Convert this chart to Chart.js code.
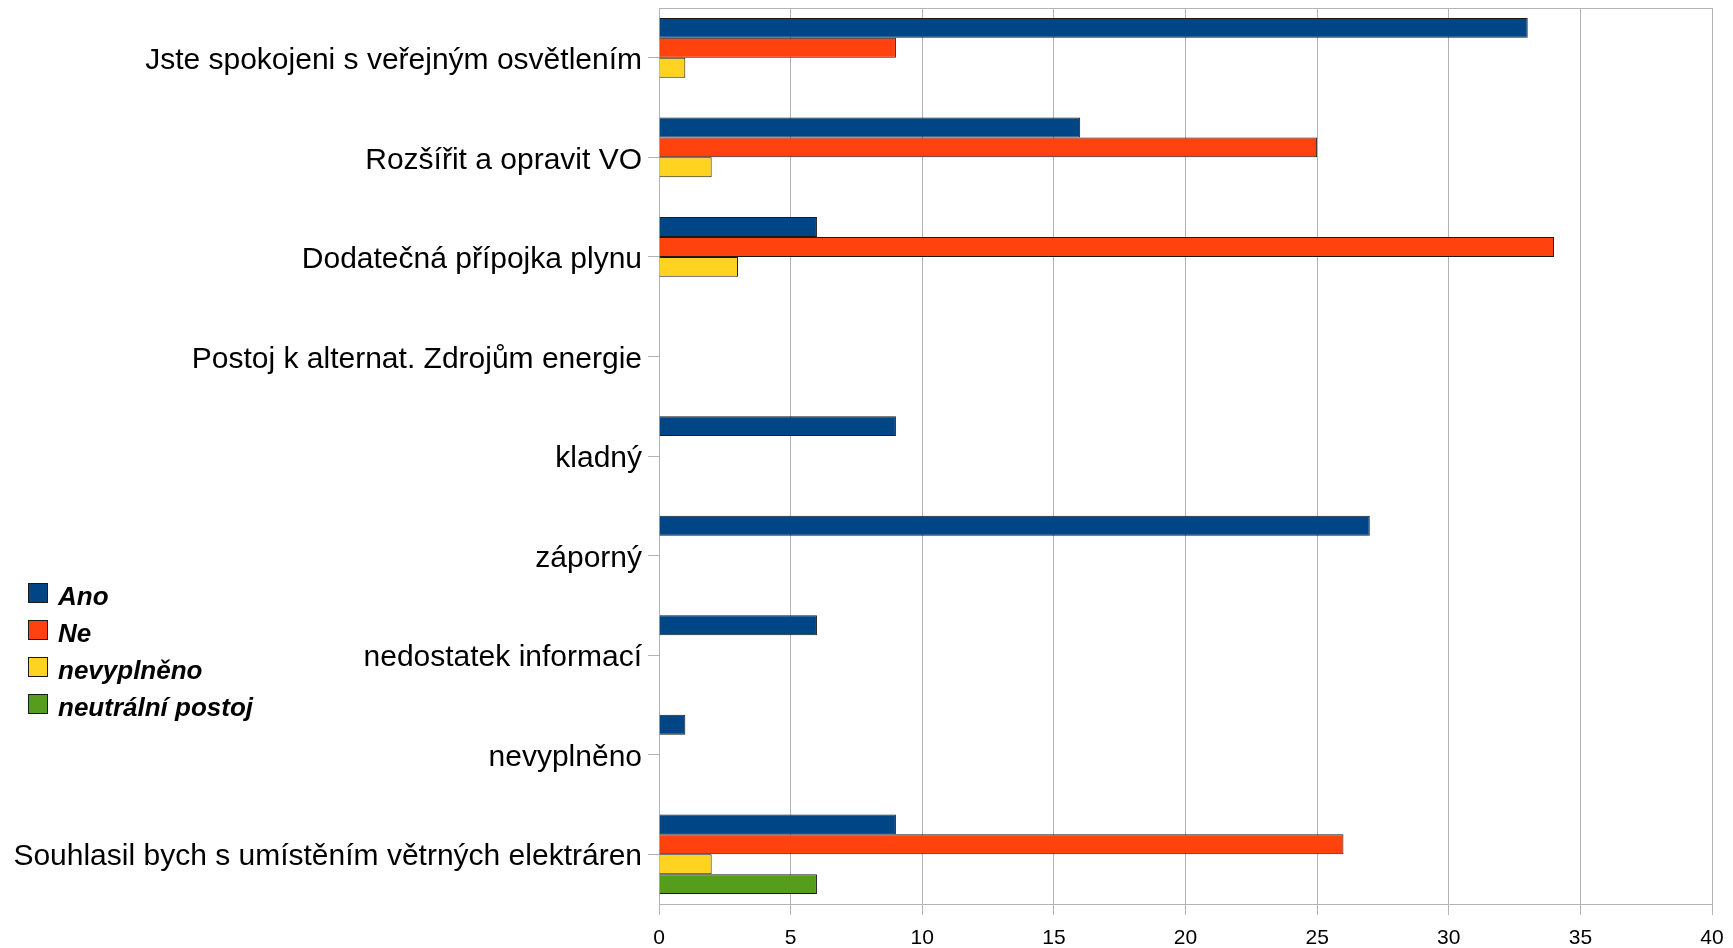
<!DOCTYPE html>
<html lang="cs">
<head>
    <meta charset="UTF-8">
    <title>Veřejné osvětlení a energie</title>
    <script src="https://cdn.jsdelivr.net/npm/chart.js@4.4.1/dist/chart.umd.min.js"></script>
    <style>
        body { margin: 0; background: #fff; }
        .wrap { position: relative; width: 1733px; height: 948px; }
        .legend { position: absolute; left: 28px; top: 583px; font-family: "Liberation Sans", Arial, sans-serif; font-weight: bold; font-style: italic; font-size: 26px; color: #000; }
        .legend div { height: 37px; display: flex; align-items: flex-start; }
        .legend span.box { width: 18px; height: 18px; border: 1px solid #1a1a1a; margin-right: 10px; }
        .legend span.txt { line-height: 26px; margin-top: 0; }
    </style>
</head>
<body>
<div class="wrap">
    <canvas id="chart"></canvas>
    <div class="legend" id="legend"></div>
</div>
<script>
    // data
    const categories = [
        'Jste spokojeni s veřejným osvětlením',
        'Rozšířit a opravit VO',
        'Dodatečná přípojka plynu',
        'Postoj k alternat. Zdrojům energie',
        'kladný',
        'záporný',
        'nedostatek informací',
        'nevyplněno',
        'Souhlasil bych s umístěním větrných elektráren'
    ];
    const ano = [33, 16, 6, null, 9, 27, 6, 1, 9];
    const ne = [9, 25, 34, null, null, null, null, null, 26];
    const nevyplneno = [1, 2, 3, null, null, null, null, null, 2];
    const neutralni = [null, null, null, null, null, null, null, null, 6];
    const xTicks = [0, 5, 10, 15, 20, 25, 30, 35, 40];

    const seriesNames = ['Ano', 'Ne', 'nevyplněno', 'neutrální postoj'];
    const seriesColors = ['#004586', '#ff420e', '#ffd320', '#579d1c'];
    const seriesData = [ano, ne, nevyplneno, neutralni];

    // legenda vlevo
    const legendEl = document.getElementById('legend');
    seriesNames.forEach((name, i) => {
        const row = document.createElement('div');
        row.innerHTML = '<span class="box" style="background:' + seriesColors[i] + '"></span><span class="txt">' + name + '</span>';
        legendEl.appendChild(row);
    });

    // horní okraj plochy grafu
    const frame = {
        id: 'frame',
        beforeDatasetsDraw(chart) {
            const a = chart.chartArea, ctx = chart.ctx;
            ctx.save();
            ctx.strokeStyle = '#b3b3b3';
            ctx.lineWidth = 1;
            ctx.beginPath();
            ctx.moveTo(a.left, a.top + 0.5);
            ctx.lineTo(a.right, a.top + 0.5);
            ctx.stroke();
            ctx.restore();
        }
    };

    new Chart(document.getElementById('chart'), {
        type: 'bar',
        data: {
            labels: categories,
            datasets: seriesData.map((d, i) => ({
                label: seriesNames[i],
                data: d,
                backgroundColor: seriesColors[i],
                borderColor: '#1a1a1a',
                borderWidth: 1,
                barPercentage: 1,
                categoryPercentage: 0.8
            }))
        },
        options: {
            indexAxis: 'y',
            responsive: true,
            maintainAspectRatio: false,
            animation: false,
            layout: { padding: { top: 8, right: 21, left: 0, bottom: 0 } },
            plugins: {
                legend: { display: false },
                tooltip: { enabled: false }
            },
            scales: {
                x: {
                    min: 0,
                    max: 40,
                    afterBuildTicks: (s) => { s.ticks = xTicks.map(v => ({ value: v })); },
                    grid: { color: '#b3b3b3', tickLength: 11 },
                    border: { color: '#b3b3b3' },
                    ticks: {
                        color: '#000',
                        padding: 11,
                        font: { family: '"Liberation Sans", Arial, sans-serif', size: 21 }
                    },
                    afterFit: (s) => { s.height = 44; s.paddingLeft = 0; s.paddingRight = 0; }
                },
                y: {
                    grid: { offset: false, drawOnChartArea: false, color: '#b3b3b3', tickLength: 11 },
                    border: { color: '#b3b3b3' },
                    ticks: {
                        color: '#000',
                        padding: 6,
                        labelOffset: 3,
                        font: { family: '"Liberation Sans", Arial, sans-serif', size: 30 }
                    },
                    afterFit: (s) => { s.width = 659; s.paddingTop = 0; s.paddingBottom = 0; }
                }
            }
        },
        plugins: [frame]
    });
</script>
</body>
</html>
